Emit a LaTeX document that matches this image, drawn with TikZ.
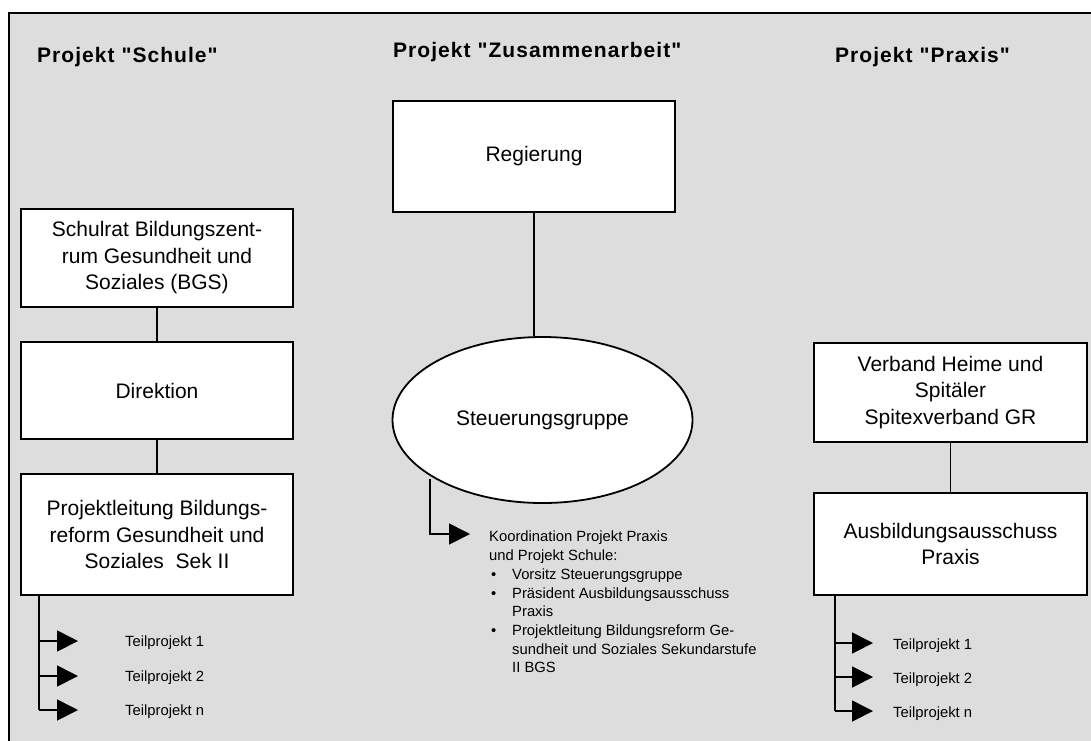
\documentclass[tikz,border=0pt]{standalone}
\usepackage{fontspec}
\setmainfont{Liberation Sans}
\newfontfamily\headfont[LetterSpace=5]{Liberation Sans}
\usetikzlibrary{shapes,arrows.meta,positioning}
\definecolor{framegray}{RGB}{221,221,221}

\begin{document}
\begin{tikzpicture}[x=1pt,y=-1pt,
  box/.style={draw, fill=white, line width=1.8pt, align=center, inner sep=0pt,
    font=\fontsize{21}{26.5}\selectfont},
  titel/.style={anchor=base west, inner sep=0pt, font=\headfont\fontsize{21}{25}\selectfont\bfseries},
  klein/.style={inner sep=0pt, font=\fontsize{14.8}{18.7}\selectfont},
  linie/.style={line width=1.8pt},
  pfeil/.style={line width=1.8pt, -{Triangle[length=21pt,width=21pt]}}]
  \useasboundingbox (0,0) rectangle (1091,740);
  \draw[fill=framegray, line width=2pt] (9,13) rectangle (1200,800);

  % Titel
  \node[titel] (tschule) at (37,62) {Projekt "Schule"};
  \node[titel] (tzusammen) at (393,57) {Projekt "Zusammenarbeit"};
  \node[titel] (tpraxis) at (835,62) {Projekt "Praxis"};

  % Projekt Schule
  \node[box, minimum width=272, minimum height=98] (schulrat) at (157,258)
    {Schulrat Bildungszent-\\rum Gesundheit und\\Soziales (BGS)};
  \node[box, minimum width=272, minimum height=97] (direktion) at (157,390.5) {Direktion};
  \node[box, minimum width=272, minimum height=121] (projl) at (157,534.5)
    {Projektleitung Bildungs-\\reform Gesundheit und\\Soziales\ \ Sek II};
  \draw[linie] (schulrat) -- (direktion);
  \draw[linie] (direktion) -- (projl);

  % Projekt Zusammenarbeit
  \node[box, minimum width=282, minimum height=111] (regierung) at (534,156.5) {Regierung};
  \node[box, ellipse, minimum width=300, minimum height=166] (steuerung) at (542.5,420)
    {Steuerungsgruppe};
  \draw[linie] (regierung.south) -- (regierung.south |- steuerung.north);
  \coordinate (ktip) at (470,534);
  \draw[pfeil] ([xshift=-6pt]steuerung.south west) |- (ktip);
  \node[klein, anchor=north west, align=left] (koord) at (489,531)
    {Koordination Projekt Praxis\\
     und Projekt Schule:\\
     \makebox[23pt][l]{\hspace{2pt}\textbullet}Vorsitz Steuerungsgruppe\\
     \makebox[23pt][l]{\hspace{2pt}\textbullet}Präsident Ausbildungsausschuss\\
     \hspace*{23pt}Praxis\\
     \makebox[23pt][l]{\hspace{2pt}\textbullet}Projektleitung Bildungsreform Ge-\\
     \hspace*{23pt}sundheit und Soziales Sekundarstufe\\
     \hspace*{23pt}II BGS};

  % Projekt Praxis
  \node[box, minimum width=273, minimum height=99] (verband) at (950.5,392.5)
    {Verband Heime und\\Spitäler\\Spitexverband GR};
  \node[box, minimum width=273, minimum height=102] (ausschuss) at (950.5,544)
    {Ausbildungsausschuss\\Praxis};
  \draw[linie] (verband) -- (ausschuss);

  % Teilprojekte
  \coordinate (lstamm) at (39,594);
  \coordinate (rstamm) at (835,595);
  \foreach \i/\y/\n in {1/641/1,2/676/2,3/710/n}{
    \coordinate (ltip\i) at (78,\y);
    \node[klein, anchor=base west] (lteil\i) at (125,\y+5) {Teilprojekt \n};
    \draw[pfeil] (lstamm |- ltip\i) -- (ltip\i);
  }
  \foreach \i/\y/\n in {1/643/1,2/677/2,3/711/n}{
    \coordinate (rtip\i) at (873,\y);
    \node[klein, anchor=base west] (rteil\i) at (893,\y+6) {Teilprojekt \n};
    \draw[pfeil] (rstamm |- rtip\i) -- (rtip\i);
  }
  \draw[linie] (lstamm) -- (lstamm |- ltip3);
  \draw[linie] (rstamm) -- (rstamm |- rtip3);
\end{tikzpicture}
\end{document}
